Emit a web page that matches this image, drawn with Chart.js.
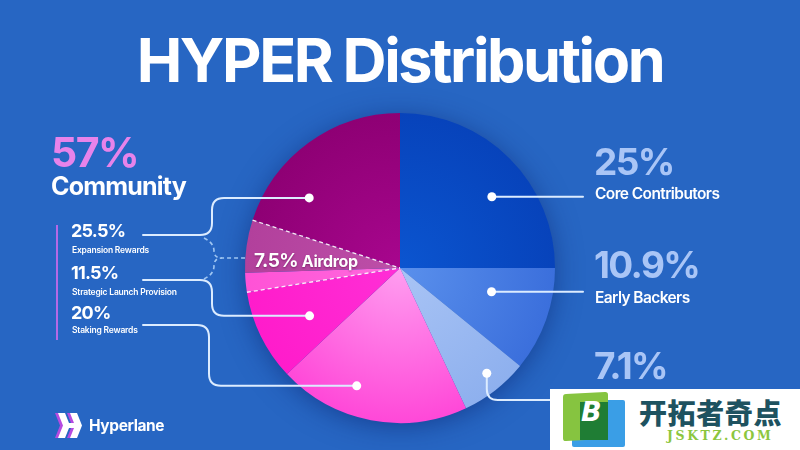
<!DOCTYPE html>
<html>
<head>
<meta charset="utf-8">
<script src="https://cdn.jsdelivr.net/npm/chart.js@4.4.1/dist/chart.umd.min.js"></script>
<style>
  html,body{margin:0;padding:0;}
  body{width:800px;height:450px;overflow:hidden;background:#2766c3;font-family:Inter,"Liberation Sans",Arial,sans-serif;}
  #wrap{position:relative;width:800px;height:450px;}
  canvas{position:absolute;left:0;top:0;}
  .t{position:absolute;line-height:1;white-space:nowrap;font-weight:700;}
</style>
</head>
<body>
<div id="wrap">
  <canvas id="c" width="800" height="450"></canvas>
</div>
<script>
// ---- data ----
const sliceLabels = ['Core Contributors','Early Backers','7.1% share','Staking Rewards','Strategic Launch Provision','Airdrop (from Strategic Launch Provision)','Airdrop (from Expansion Rewards)','Expansion Rewards'];
const sliceValues = [25, 10.9, 7.1, 20, 9.5, 2.0, 5.5, 20.0];
const sliceInner  = ['#0b55d0','#5a90ec','#a9c4f5','#ff9ef0','#ff2fd6','#ff6ade','#bd4fa8','#a8068e'];
const sliceOuter  = ['#0743bb','#3b6fdc','#8eb0ee','#ff48d8','#ff1ccb','#ff52d6','#b2409c','#8e0074'];

const titleText = 'HYPER Distribution';
const communityPercent = '57%';
const communityLabel = 'Community';
const communityPercents = ['25.5%','11.5%','20%'];
const communityNames = ['Expansion Rewards','Strategic Launch Provision','Staking Rewards'];
const rightPercents = ['25%','10.9%','7.1%'];
const rightNames = ['Core Contributors','Early Backers'];
const airdropPercent = '7.5%';
const airdropName = 'Airdrop';

// ---- text overlays ----
const wrap = document.getElementById('wrap');
function addText(txt, x, y, size, color, extra){
  const d = document.createElement('div');
  d.className = 't';
  d.textContent = txt;
  d.style.left = x + 'px'; d.style.top = y + 'px';
  d.style.fontSize = size + 'px'; d.style.color = color;
  if (extra) Object.assign(d.style, extra);
  wrap.appendChild(d);
  return d;
}
addText(titleText, 0, 30, 61, '#ffffff', {width:'800px', textAlign:'center', letterSpacing:'-2.4px', wordSpacing:'-1px'});
addText(communityPercent, 51, 132, 41, '#e783ea', {letterSpacing:'-1.5px'});
addText(communityLabel, 51, 174, 25, '#ffffff', {letterSpacing:'-0.8px'});
const leftPctTop = [222, 264, 304];
const leftNameTop = [246, 288, 326];
communityPercents.forEach((p,i)=>{
  addText(p, 71, leftPctTop[i], 18, '#ffffff', {letterSpacing:'-0.8px'});
  addText(communityNames[i], 72, leftNameTop[i], 8.5, '#ffffff', {fontWeight:'600', letterSpacing:'-0.2px'});
});
const rightPctTop = [143, 246, 347];
rightPercents.forEach((p,i)=> addText(p, 594, rightPctTop[i], 37, '#a9c5f6', {letterSpacing:'-1.6px'}));
const rightNameTop = [186, 290];
rightNames.forEach((n,i)=> addText(n, 595, rightNameTop[i], 15.5, '#ffffff', {fontWeight:'600', letterSpacing:'-0.6px'}));
const ad = addText('', 254, 251, 19, '#ffffff', {letterSpacing:'-0.6px', textShadow:'0 1px 2px rgba(80,0,60,0.5)'});
const adP = document.createElement('span'); adP.textContent = airdropPercent + ' ';
const adN = document.createElement('span'); adN.textContent = airdropName; adN.style.fontSize='16px'; adN.style.letterSpacing='-0.4px';
ad.appendChild(adP); ad.appendChild(adN);

// purple bar
const bar = document.createElement('div');
Object.assign(bar.style,{position:'absolute',left:'56px',top:'225px',width:'2px',height:'115px',background:'#b569e6'});
wrap.appendChild(bar);

// Hyperlane logo
const logo = document.createElement('div');
logo.style.position='absolute'; logo.style.left='54px'; logo.style.top='412px';
logo.innerHTML = '<svg width="30" height="27" viewBox="0 0 30 27">'+
 '<g fill="#b64be0" transform="translate(-2,0)"><polygon points="3,1 10,1 15,13.5 10,26 3,26 8,13.5"/><polygon points="15,1 22,1 27,13.5 22,26 15,26 20,13.5"/><rect x="8" y="11" width="13" height="5"/></g>'+
 '<g fill="#ffffff" transform="translate(1,0)"><polygon points="3,1 10,1 15,13.5 10,26 3,26 8,13.5"/><polygon points="15,1 22,1 27,13.5 22,26 15,26 20,13.5"/><rect x="8" y="11" width="13" height="5"/></g></svg>';
wrap.appendChild(logo);
addText('Hyperlane', 89, 418, 15.5, '#ffffff', {letterSpacing:'-0.4px'});

// watermark
const wm = document.createElement('div');
Object.assign(wm.style,{position:'absolute',left:'550px',top:'389px',width:'250px',height:'61px',background:'#ffffff'});
wm.innerHTML =
 '<div style="position:absolute;left:22px;top:11px;width:53px;height:47px;background:#3a9ee6;border-radius:2px"></div>'+
 '<div style="position:absolute;left:13px;top:4px;width:45px;height:47px;background:#86c440;border-radius:3px;transform:skewY(-3deg)"></div>'+
 '<div style="position:absolute;left:30px;top:13px;width:28px;height:38px;background:#1f7d34"></div>'+
 '<div style="position:absolute;left:31px;top:9px;font:italic 900 27px \'DejaVu Sans\',sans-serif;color:#ffffff;line-height:1">B</div>'+
 '<div style="position:absolute;left:89px;top:9px;font:900 28px \'Noto Sans CJK SC\',sans-serif;color:#1e5260;line-height:1;letter-spacing:0.6px">开拓者奇点</div>'+
 '<div style="position:absolute;left:117px;top:41px;font:900 12.5px \'DejaVu Serif\',\'Liberation Serif\',serif;color:#8cc63e;line-height:1;letter-spacing:2.6px">JSKTZ.COM</div>';
wrap.appendChild(wm);

// ---- chart ----
function grad(context, i){
  const chart = context.chart; const a = chart.chartArea;
  if (!a) return sliceOuter[i];
  const cx=(a.left+a.right)/2, cy=(a.top+a.bottom)/2, r=Math.min(a.right-a.left,a.bottom-a.top)/2;
  const g = chart.ctx.createRadialGradient(cx,cy,0,cx,cy,r);
  g.addColorStop(0, sliceInner[i]); g.addColorStop(1, sliceOuter[i]);
  return g;
}

function arcPoint(el, t, rf){
  const a = el.startAngle + t*(el.endAngle-el.startAngle);
  const r = el.outerRadius*rf;
  return {x: el.x + r*Math.cos(a), y: el.y + r*Math.sin(a)};
}
function spanPoint(e1, e2, t, rf){
  const a = e1.startAngle + t*(e2.endAngle-e1.startAngle);
  const r = e1.outerRadius*rf;
  return {x: e1.x + r*Math.cos(a), y: e1.y + r*Math.sin(a)};
}
function edgePoint(el, ang){
  return {x: el.x + el.outerRadius*Math.cos(ang), y: el.y + el.outerRadius*Math.sin(ang)};
}

const decor = {
  id:'decor',
  beforeDatasetsDraw(chart){
    const el = chart.getDatasetMeta(0).data[0]; if(!el) return;
    const ctx = chart.ctx; ctx.save();
    ctx.shadowColor='rgba(8,30,100,0.55)'; ctx.shadowBlur=28; ctx.shadowOffsetY=4;
    ctx.fillStyle='#1f57b8';
    ctx.beginPath(); ctx.arc(el.x, el.y, el.outerRadius-2, 0, Math.PI*2); ctx.fill();
    ctx.restore();
  },
  afterDatasetsDraw(chart){
    const m = chart.getDatasetMeta(0).data; const ctx = chart.ctx;
    const c = {x:m[0].x, y:m[0].y};
    ctx.save();
    ctx.strokeStyle='rgba(255,255,255,0.9)'; ctx.lineWidth=1.3; ctx.setLineDash([4,3]);
    [m[5].startAngle, m[6].endAngle].forEach(ang=>{
      const p = edgePoint(m[5], ang);
      ctx.beginPath(); ctx.moveTo(p.x,p.y); ctx.lineTo(c.x,c.y); ctx.stroke();
    });
    ctx.strokeStyle='#9fc6f2'; ctx.lineWidth=1.6; ctx.setLineDash([4,3]);
    const ae = edgePoint(m[5], (m[5].startAngle+m[6].endAngle)/2);
    ctx.beginPath(); ctx.moveTo(204,238); ctx.quadraticCurveTo(214,243,214,251); ctx.quadraticCurveTo(214,258,222,258); ctx.stroke();
    ctx.beginPath(); ctx.moveTo(204,279); ctx.quadraticCurveTo(214,274,214,266); ctx.quadraticCurveTo(214,258,222,258); ctx.lineTo(ae.x+2, 258); ctx.stroke();
    ctx.restore();

    ctx.save();
    ctx.strokeStyle='#dcecff'; ctx.lineWidth=2; ctx.lineJoin='round'; ctx.lineCap='round';
    const core = arcPoint(m[0], 0.58, 0.75);
    const early = arcPoint(m[1], 0.37, 0.61);
    const other = arcPoint(m[2], 0.44, 0.88);
    const stake = arcPoint(m[3], 0.63, 0.81);
    const strat = spanPoint(m[4], m[5], 0.37, 0.66);
    const expa = spanPoint(m[6], m[7], 0.43, 0.74);
    ctx.beginPath(); ctx.moveTo(core.x,core.y); ctx.lineTo(583,core.y); ctx.stroke();
    ctx.beginPath(); ctx.moveTo(early.x,early.y); ctx.lineTo(583,early.y); ctx.stroke();
    ctx.beginPath(); ctx.moveTo(other.x,other.y); ctx.lineTo(other.x,389); ctx.quadraticCurveTo(other.x,400,other.x+11,400); ctx.lineTo(570,400); ctx.stroke();
    ctx.beginPath(); ctx.moveTo(143,235); ctx.lineTo(200,235); ctx.quadraticCurveTo(212,235,212,223); ctx.lineTo(212,expa.y+12); ctx.quadraticCurveTo(212,expa.y,224,expa.y); ctx.lineTo(expa.x,expa.y); ctx.stroke();
    ctx.beginPath(); ctx.moveTo(143,280); ctx.lineTo(200,280); ctx.quadraticCurveTo(212,280,212,292); ctx.lineTo(212,strat.y-12); ctx.quadraticCurveTo(212,strat.y,224,strat.y); ctx.lineTo(strat.x,strat.y); ctx.stroke();
    ctx.beginPath(); ctx.moveTo(143,325); ctx.lineTo(197,325); ctx.quadraticCurveTo(209,325,209,337); ctx.lineTo(209,stake.y-12); ctx.quadraticCurveTo(209,stake.y,221,stake.y); ctx.lineTo(stake.x,stake.y); ctx.stroke();
    ctx.fillStyle='#ffffff';
    [core,early,other,stake,strat,expa].forEach(p=>{ctx.beginPath(); ctx.arc(p.x,p.y,4.5,0,Math.PI*2); ctx.fill();});
    ctx.restore();
  }
};

new Chart(document.getElementById('c'), {
  type:'pie',
  data:{
    labels: sliceLabels,
    datasets:[{
      data: sliceValues,
      backgroundColor: (ctx)=>grad(ctx, ctx.dataIndex),
      borderWidth: 0,
      hoverOffset: 0
    }]
  },
  options:{
    responsive:false,
    animation:false,
    events:[],
    layout:{padding:{top:113,bottom:27,left:245,right:245}},
    plugins:{legend:{display:false}, tooltip:{enabled:false}}
  },
  plugins:[decor]
});
</script>
</body>
</html>
